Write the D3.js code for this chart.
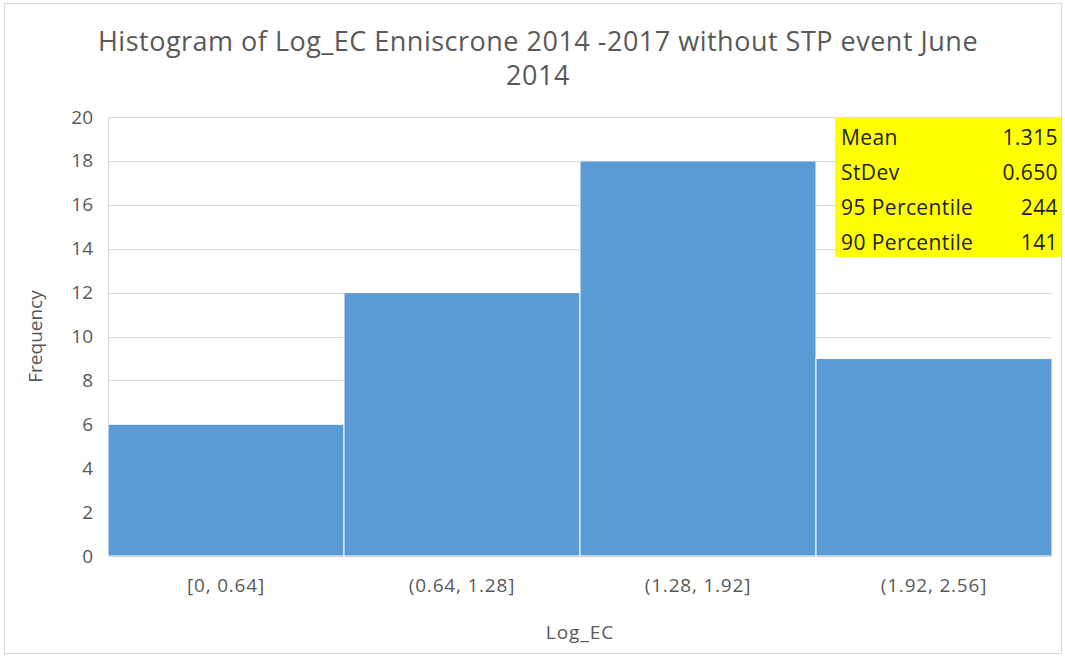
<!DOCTYPE html>
<html>
<head>
<meta charset="utf-8">
<script src="https://cdn.jsdelivr.net/npm/d3@7"></script>
<style>
  html, body { margin: 0; padding: 0; background: #fff; }
  svg { display: block; }
  text { font-family: "Open Sans", "Liberation Sans", sans-serif; fill: #595959; }
</style>
</head>
<body>
<svg id="chart" width="1065" height="657"></svg>
<script>
// Histogram bins and counts
const bins = ["[0, 0.64]", "(0.64, 1.28]", "(1.28, 1.92]", "(1.92, 2.56]"];
const counts = [6, 12, 18, 9];
const yTicks = [0, 2, 4, 6, 8, 10, 12, 14, 16, 18, 20];

// Summary statistics table
const statLabels = ["Mean", "StDev", "95 Percentile", "90 Percentile"];
const statValues = ["1.315", "0.650", "244", "141"];

const titleLines = ["Histogram of Log_EC Enniscrone 2014 -2017 without STP event June", "2014"];

const svg = d3.select("#chart");
const W = 1065, H = 657;
const margin = { left: 108, right: 13, top: 117, bottom: 101 };

// outer chart border
svg.append("rect")
  .attr("x", 4.5).attr("y", 3.5)
  .attr("width", W - 8).attr("height", H - 7)
  .attr("fill", "#fff").attr("stroke", "#d9d9d9").attr("stroke-width", 1);

const x = d3.scaleBand().domain(bins)
  .range([margin.left, W - margin.right]).paddingInner(0).paddingOuter(0);
const y = d3.scaleLinear().domain([0, 20]).range([H - margin.bottom, margin.top]);

// gridlines
svg.append("g")
  .selectAll("line").data(yTicks).join("line")
  .attr("x1", margin.left).attr("x2", W - margin.right)
  .attr("y1", d => Math.round(y(d)) + 0.5).attr("y2", d => Math.round(y(d)) + 0.5)
  .attr("stroke", "#d9d9d9").attr("stroke-width", 1);

// left axis line
svg.append("line")
  .attr("x1", margin.left + 0.5).attr("x2", margin.left + 0.5)
  .attr("y1", y(20)).attr("y2", y(0))
  .attr("stroke", "#d9d9d9");

// bars
svg.append("g")
  .selectAll("rect").data(counts).join("rect")
  .attr("x", (d, i) => x(bins[i]))
  .attr("width", x.bandwidth())
  .attr("y", d => y(d))
  .attr("height", d => y(0) - y(d))
  .attr("fill", "#5b9bd5")
  .attr("stroke", "#fff").attr("stroke-width", 1);

// y axis tick labels
const yAxis = d3.axisLeft(y).tickValues(yTicks).tickSize(0).tickPadding(15);
const gy = svg.append("g").attr("transform", `translate(${margin.left},0)`).call(yAxis);
gy.select(".domain").remove();
gy.selectAll("text").style("font-family", '"Open Sans", sans-serif')
  .attr("font-size", 19).attr("fill", "#595959");

// x axis tick labels
const xAxis = d3.axisBottom(x).tickSize(0).tickPadding(23);
const gx = svg.append("g").attr("transform", `translate(0,${y(0)})`).call(xAxis);
gx.select(".domain").attr("stroke", "#d9d9d9");
gx.selectAll("text").style("font-family", '"Open Sans", sans-serif')
  .attr("font-size", 19).attr("letter-spacing", 0.8).attr("fill", "#595959");

// axis titles
svg.append("text")
  .attr("transform", `translate(42,${(y(0) + y(20)) / 2}) rotate(-90)`)
  .attr("text-anchor", "middle").attr("font-size", 19)
  .text("Frequency");
svg.append("text")
  .attr("x", (margin.left + W - margin.right) / 2).attr("y", 639)
  .attr("text-anchor", "middle").attr("font-size", 19).attr("letter-spacing", 1)
  .text("Log_EC");

// chart title
svg.append("g").selectAll("text").data(titleLines).join("text")
  .attr("x", 538).attr("y", (d, i) => 51 + i * 34)
  .attr("text-anchor", "middle").attr("font-size", 27).attr("letter-spacing", 0.5)
  .text(d => d);

// statistics box
const box = svg.append("g");
box.append("rect")
  .attr("x", 835).attr("y", 117).attr("width", 226).attr("height", 140)
  .attr("fill", "#ffff00");
box.selectAll("text.lbl").data(statLabels).join("text")
  .attr("class", "lbl")
  .attr("x", 841).attr("y", (d, i) => 145 + i * 35)
  .attr("font-size", 21).attr("letter-spacing", 0.4).style("fill", "#222")
  .text(d => d);
box.selectAll("text.val").data(statValues).join("text")
  .attr("class", "val")
  .attr("x", 1058).attr("y", (d, i) => 145 + i * 35)
  .attr("text-anchor", "end")
  .attr("font-size", 21).attr("letter-spacing", 0.4).style("fill", "#222")
  .text(d => d);
</script>
</body>
</html>
